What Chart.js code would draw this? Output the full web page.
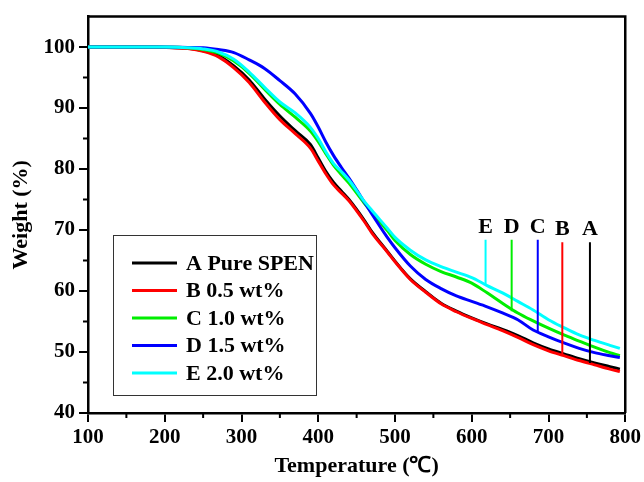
<!DOCTYPE html>
<html>
<head>
<meta charset="utf-8">
<script src="https://cdn.jsdelivr.net/npm/chart.js@4/dist/chart.umd.min.js"></script>
<style>
  html, body { margin: 0; padding: 0; background: #fff; }
  #wrap { width: 644px; height: 482px; }
</style>
</head>
<body>
<div id="wrap"><canvas id="tga-chart"></canvas></div>
<script>
// temperatures (℃) shared by all curves
const temps = [100, 150, 200, 230, 250, 270, 290, 310, 330, 350, 370, 390, 400, 410, 420, 430, 440, 460, 470, 490, 500,
               520, 540, 560, 580, 600, 620, 640, 660, 680, 700, 720, 740, 760, 780, 793];

// weight (%) per sample
const pureSpen = [100, 100, 99.95, 99.8, 99.4, 98.6, 96.9, 94.6, 91.5, 88.7, 86.3, 84.0, 81.8, 79.6, 77.8, 76.4, 75.0, 71.6, 69.7, 66.5, 64.9,
                  62.0, 59.9, 58.0, 56.7, 55.6, 54.6, 53.7, 52.7, 51.5, 50.5, 49.7, 48.9, 48.2, 47.6, 47.2];
const wt05 = [100, 100, 99.95, 99.75, 99.3, 98.4, 96.6, 94.2, 91.0, 88.1, 85.8, 83.4, 81.3, 79.2, 77.4, 76.1, 74.8, 71.4, 69.5, 66.4, 64.8,
              61.9, 59.8, 57.9, 56.6, 55.5, 54.5, 53.5, 52.4, 51.2, 50.2, 49.4, 48.6, 47.9, 47.2, 46.8];
const wt10 = [100, 100, 100, 99.9, 99.6, 99.0, 97.7, 95.7, 93.1, 90.6, 88.5, 86.2, 84.5, 82.5, 80.6, 79.1, 77.7, 74.4, 72.9, 69.9, 68.3,
              66.0, 64.4, 63.2, 62.3, 61.3, 59.7, 58.0, 56.4, 55.1, 53.9, 52.8, 51.8, 50.8, 49.9, 49.4];
const wt15 = [100, 100, 100, 99.95, 99.9, 99.6, 99.1, 97.9, 96.5, 94.5, 92.3, 89.1, 86.9, 84.4, 82.2, 80.3, 78.5, 74.6, 72.6, 68.8, 67.1,
              64.1, 61.9, 60.4, 59.2, 58.3, 57.4, 56.4, 55.3, 53.6, 52.5, 51.5, 50.6, 49.9, 49.4, 49.1];
const wt20 = [100, 100, 100, 99.9, 99.7, 99.2, 98.0, 95.9, 93.4, 91.0, 89.2, 86.8, 85.0, 82.8, 80.9, 79.6, 78.2, 74.7, 73.2, 70.3, 68.8,
              66.7, 65.1, 64.0, 63.1, 62.2, 60.9, 59.7, 58.3, 56.9, 55.3, 54.0, 52.8, 51.9, 51.1, 50.6];

const seriesLabels = ['A Pure SPEN', 'B 0.5 wt%', 'C 1.0 wt%', 'D 1.5 wt%', 'E 2.0 wt%'];
const seriesValues = [pureSpen, wt05, wt10, wt15, wt20];
const seriesColors = ['#000000', '#ff0000', '#00ee00', '#0000ff', '#00ffff'];

// letter markers with their vertical lines
const markerLetters = ['E', 'D', 'C', 'B', 'A'];
const markerTemps = [618, 652, 686, 718, 754];
const markerTop = [68.4, 68.4, 68.4, 68.0, 68.0];
const markerBottom = [61.0, 56.7, 53.1, 49.6, 48.2];
const markerColors = ['#00ffff', '#00ee00', '#0000ff', '#ff0000', '#000000'];

const xTicks = [100, 200, 300, 400, 500, 600, 700, 800];
const yTicks = [40, 50, 60, 70, 80, 90, 100];

const serif = '"Liberation Serif", "Times New Roman", serif';

const datasets = [];
seriesValues.forEach(function(vals, i) {
    datasets.push({
        label: seriesLabels[i],
        data: temps.map((t, j) => ({x: t, y: vals[j]})),
        borderColor: seriesColors[i],
        borderWidth: 3,
        pointRadius: 0,
        cubicInterpolationMode: 'monotone',
        fill: false,
        order: 10 - i
    });
});
markerLetters.forEach(function(letter, i) {
    datasets.push({
        label: 'marker ' + letter,
        data: [{x: markerTemps[i], y: markerTop[i]}, {x: markerTemps[i], y: markerBottom[i]}],
        borderColor: markerColors[i],
        borderWidth: 2,
        pointRadius: 0,
        fill: false,
        order: 0
    });
});

// frame, minor ticks, letters and the boxed legend
const decorations = {
    id: 'decorations',
    afterDraw(chart) {
        const ctx = chart.ctx;
        const area = chart.chartArea;
        const xs = chart.scales.x, ys = chart.scales.y;
        ctx.save();
        ctx.strokeStyle = '#000';
        ctx.lineWidth = 2.5;
        ctx.beginPath();
        ctx.moveTo(area.left, area.top);
        ctx.lineTo(area.right, area.top);
        ctx.lineTo(area.right, area.bottom);
        ctx.stroke();

        ctx.lineWidth = 2;
        ctx.beginPath();
        for (let v = 150; v < 800; v += 100) {
            const px = xs.getPixelForValue(v);
            ctx.moveTo(px, area.bottom);
            ctx.lineTo(px, area.bottom + 5);
        }
        for (let v = 45; v < 100; v += 10) {
            const py = ys.getPixelForValue(v);
            ctx.moveTo(area.left, py);
            ctx.lineTo(area.left - 5, py);
        }
        ctx.stroke();

        ctx.font = 'bold 22px ' + serif;
        ctx.fillStyle = '#000';
        ctx.textAlign = 'center';
        ctx.textBaseline = 'alphabetic';
        markerLetters.forEach(function(letter, i) {
            const px = xs.getPixelForValue(markerTemps[i]);
            const py = ys.getPixelForValue(markerTop[i]);
            ctx.fillText(letter, px, py - 7);
        });

        // legend box
        const bx = 113, by = 235, bw = 203, bh = 160;
        ctx.lineWidth = 1;
        ctx.strokeStyle = '#333';
        ctx.strokeRect(bx + 0.5, by + 0.5, bw, bh);
        ctx.textAlign = 'left';
        ctx.textBaseline = 'middle';
        seriesLabels.forEach(function(label, i) {
            const y = by + 28 + i * 27.5;
            ctx.strokeStyle = seriesColors[i];
            ctx.lineWidth = 3;
            ctx.beginPath();
            ctx.moveTo(bx + 19, y);
            ctx.lineTo(bx + 64, y);
            ctx.stroke();
            ctx.fillStyle = '#000';
            ctx.fillText(label, bx + 73, y + 1);
        });
        ctx.restore();
    }
};

new Chart(document.getElementById('tga-chart').getContext('2d'), {
    type: 'line',
    data: { datasets: datasets },
    plugins: [decorations],
    options: {
        responsive: true,
        maintainAspectRatio: false,
        animation: false,
        layout: { padding: { left: 0, right: 18, top: 14, bottom: 0 } },
        plugins: { legend: { display: false }, tooltip: { enabled: false } },
        scales: {
            x: {
                type: 'linear',
                min: 100,
                max: 800,
                afterBuildTicks: s => { s.ticks = xTicks.map(v => ({value: v})); },
                afterFit: s => { s.height = 69; },
                grid: { drawOnChartArea: false, drawTicks: true, tickLength: 9, color: '#000', lineWidth: 2 },
                border: { display: true, color: '#000', width: 2.5 },
                ticks: { color: '#000', padding: 3, maxRotation: 0, font: { family: serif, size: 21, weight: 'bold' } },
                title: { display: true, text: 'Temperature (℃)', color: '#000', padding: { top: 0, bottom: 2 },
                         font: { family: serif, size: 22, weight: 'bold' } }
            },
            y: {
                type: 'linear',
                min: 40,
                max: 105,
                afterBuildTicks: s => { s.ticks = yTicks.map(v => ({value: v})); },
                afterFit: s => { s.width = 88; },
                grid: { drawOnChartArea: false, drawTicks: true, tickLength: 9, color: '#000', lineWidth: 2 },
                border: { display: true, color: '#000', width: 2.5 },
                ticks: { color: '#000', padding: 4, font: { family: serif, size: 21, weight: 'bold' } },
                title: { display: true, text: 'Weight (%)', color: '#000', padding: { top: 8, bottom: 0 },
                         font: { family: serif, size: 22, weight: 'bold' } }
            }
        }
    }
});
</script>
</body>
</html>
